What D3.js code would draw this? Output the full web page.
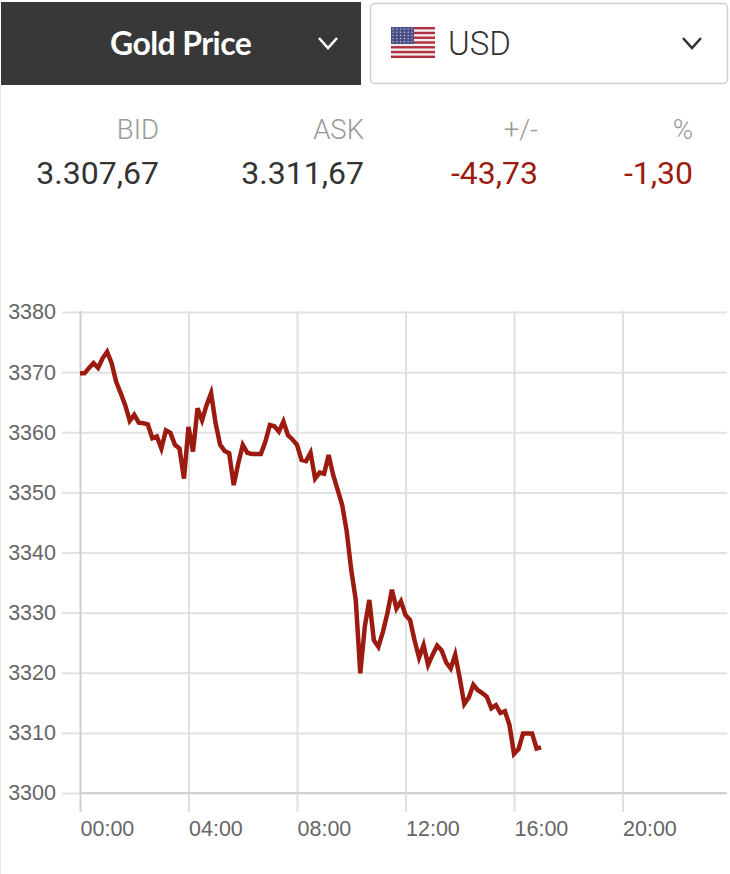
<!DOCTYPE html>
<html>
<head>
<meta charset="utf-8">
<script src="https://cdn.jsdelivr.net/npm/d3@7"></script>
<style>
  html, body { margin: 0; padding: 0; background: #fff; overflow: hidden; }
  svg { display: block; }
</style>
</head>
<body>
<svg id="chart" width="730" height="874"></svg>
<script>
// gold price every 10 minutes from 00:00
const prices = [
    3369.8, 3369.8, 3370.7, 3371.5, 3370.7, 3372.3, 3373.4, 3371.5, 3368.4, 3366.5,
    3364.5, 3361.9, 3362.9, 3361.6, 3361.5, 3361.3, 3359.0, 3359.3, 3357.3, 3360.3,
    3359.9, 3357.9, 3357.3, 3352.3, 3360.9, 3356.8, 3364.0, 3362.0, 3364.5, 3366.5,
    3361.5, 3357.9, 3356.9, 3356.5, 3351.2, 3354.8, 3357.9, 3356.6, 3356.4, 3356.4,
    3356.4, 3358.4, 3361.2, 3361.0, 3360.1, 3361.8, 3359.5, 3358.8, 3357.9, 3355.4,
    3355.2, 3356.6, 3352.3, 3353.3, 3353.1, 3356.2, 3352.9, 3350.4, 3347.9, 3343.5,
    3337.1, 3332.1, 3319.9, 3327.7, 3332.1, 3325.4, 3324.3, 3326.8, 3329.9, 3333.8,
    3330.7, 3331.9, 3329.6, 3328.8, 3325.4, 3322.5, 3324.6, 3321.3, 3323.0, 3324.5,
    3323.7, 3321.7, 3320.7, 3323.0, 3319.1, 3314.8, 3315.9, 3318.0, 3317.1, 3316.6,
    3316.0, 3314.1, 3314.6, 3313.3, 3313.6, 3311.3, 3306.5, 3307.3, 3309.9, 3309.9,
    3309.9, 3307.4, 3307.6
];
const stepMinutes = 10;

const yTicks = [3300, 3310, 3320, 3330, 3340, 3350, 3360, 3370, 3380];
const xTicks = [0, 240, 480, 720, 960, 1200];

const quoteLabels = ["BID", "ASK", "+/-", "%"];
const quoteValues = ["3.307,67", "3.311,67", "-43,73", "-1,30"];
const quoteRight = [159, 364, 538, 693];
const quoteColors = ["#333333", "#333333", "#9c1b10", "#9c1b10"];

const svg = d3.select("#chart");
const sansFont = "'Liberation Sans', Arial, sans-serif";
const uiFont = "Roboto, 'Noto Sans', sans-serif";

// left page edge
svg.append("rect").attr("x", 0).attr("y", 85).attr("width", 1).attr("height", 789).attr("fill", "#e8e8ee");

// header buttons
svg.append("rect").attr("x", 1).attr("y", 2).attr("width", 360).attr("height", 83).attr("fill", "#383838");
svg.append("text")
    .attr("x", 110).attr("y", 55)
    .attr("font-family", "Lato, sans-serif").attr("font-weight", 700).attr("font-size", 32)
    .attr("letter-spacing", -0.6)
    .attr("fill", "#fff")
    .text("Gold Price");

svg.append("rect")
    .attr("x", 370.5).attr("y", 3.5).attr("width", 357).attr("height", 80).attr("rx", 4)
    .attr("fill", "#fff").attr("stroke", "#d0d0d0").attr("stroke-width", 1.5);
svg.append("text")
    .attr("x", 448).attr("y", 54.5)
    .attr("font-family", uiFont).attr("font-size", 33).attr("font-weight", 300)
    .attr("fill", "#333")
    .text("USD");

function chevron(cx, cy, color) {
    const pts = [[cx - 9, cy - 5], [cx, cy + 5], [cx + 9, cy - 5]];
    svg.append("path")
        .attr("d", d3.line()(pts))
        .attr("fill", "none").attr("stroke", color).attr("stroke-width", 2.6);
}
chevron(328, 43, "#fff");
chevron(692, 43, "#333");

// flag
const flag = svg.append("g").attr("transform", "translate(391, 27)");
flag.append("rect").attr("width", 44).attr("height", 31).attr("fill", "#f3eeee");
flag.selectAll(".stripe")
    .data(d3.range(0, 13, 2))
    .join("rect")
        .classed("stripe", true)
        .attr("y", d => d * 31 / 13)
        .attr("width", 44)
        .attr("height", 31 / 13)
        .attr("fill", "#b22f3f");
flag.append("rect").attr("width", 23).attr("height", 17).attr("fill", "#4a4f86");
flag.selectAll(".star")
    .data(d3.range(30))
    .join("circle")
        .classed("star", true)
        .attr("cx", d => 2 + (d % 6) * 3.8)
        .attr("cy", d => 2 + Math.floor(d / 6) * 3.2)
        .attr("r", 0.7)
        .attr("fill", "#c9cbe0");

// quote table
svg.selectAll(".quoteLabel")
    .data(quoteLabels)
    .join("text")
        .classed("quoteLabel", true)
        .attr("x", (d, i) => quoteRight[i])
        .attr("y", 139)
        .attr("text-anchor", "end")
        .attr("font-family", uiFont).attr("font-size", 27.5).attr("font-weight", 300)
        .attr("fill", "#999")
        .text(d => d);
svg.selectAll(".quoteValue")
    .data(quoteValues)
    .join("text")
        .classed("quoteValue", true)
        .attr("x", (d, i) => quoteRight[i])
        .attr("y", 184)
        .attr("text-anchor", "end")
        .attr("font-family", uiFont).attr("font-size", 32)
        .attr("fill", (d, i) => quoteColors[i])
        .text(d => d);

// chart
const xScale = d3.scaleLinear().domain([0, 1440]).range([80, 731]);
const yScale = d3.scaleLinear().domain([3300, 3380]).range([793, 312]);

const yAxisGroup = svg.append("g")
    .attr("transform", "translate(80, 0)")
    .call(d3.axisLeft(yScale).tickValues(yTicks).tickSize(18).tickPadding(6).tickFormat(d => d));
yAxisGroup.select(".domain").remove();
yAxisGroup.selectAll("line").attr("stroke", "#e2e2e2").attr("stroke-width", 2);
yAxisGroup.selectAll("text")
    .attr("x", -24)
    .style("font-family", sansFont).style("font-size", "21.5px").attr("fill", "#666");
yAxisGroup.selectAll(".tick").append("line")
    .attr("x1", 0).attr("x2", 647)
    .attr("stroke", "#e2e2e2").attr("stroke-width", 2);

const xAxisGroup = svg.append("g")
    .attr("transform", "translate(0, 812)")
    .call(d3.axisBottom(xScale).tickValues(xTicks).tickSize(0).tickPadding(8)
        .tickFormat(d => String(d / 60).padStart(2, "0") + ":00"));
xAxisGroup.select(".domain").remove();
xAxisGroup.selectAll("text")
    .attr("text-anchor", "start")
    .attr("y", 9)
    .style("font-family", sansFont).style("font-size", "21.5px").attr("fill", "#666");
xAxisGroup.selectAll(".tick").append("line")
    .attr("y1", 0).attr("y2", -501)
    .attr("stroke", (d, i) => i === 0 ? "#cfcfcf" : "#e0e0e0").attr("stroke-width", 2);

// baseline at 3300 is a little darker
svg.append("line")
    .attr("x1", xScale(0)).attr("x2", 727)
    .attr("y1", yScale(3300)).attr("y2", yScale(3300))
    .attr("stroke", "#d2d2d2").attr("stroke-width", 2);

const priceLine = d3.line()
    .x((d, i) => xScale(i * stepMinutes))
    .y(d => yScale(d));

svg.append("path")
    .datum(prices)
    .attr("d", priceLine)
    .attr("fill", "none")
    .attr("stroke", "#9c1b10")
    .attr("stroke-width", 4.5)
    .attr("stroke-linejoin", "miter");
</script>
</body>
</html>
